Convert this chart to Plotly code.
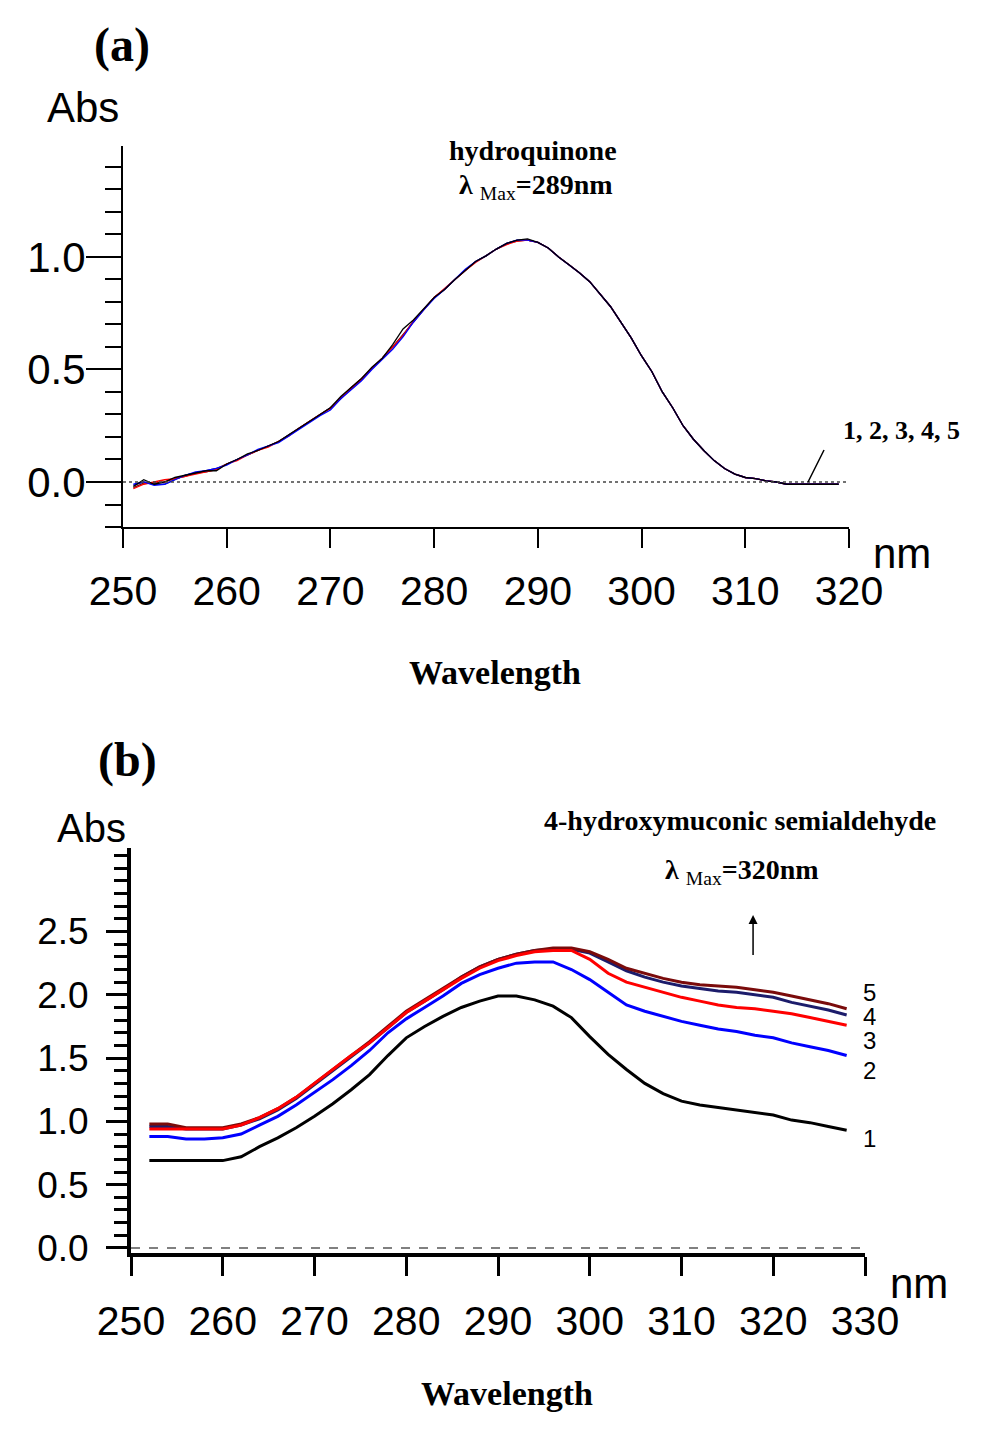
import plotly.graph_objects as go

# (a) hydroquinone spectra, wavelength in nm
a_nm = [251, 252, 253, 254, 255, 256, 257, 258, 259, 260,
        261, 262, 263, 264, 265, 266, 267, 268, 269, 270,
        271, 272, 273, 274, 275, 276, 277, 278, 279, 280,
        281, 282, 283, 284, 285, 286, 287, 288, 289, 290,
        291, 292, 293, 294, 295, 296, 297, 298, 299, 300,
        301, 302, 303, 304, 305, 306, 307, 308, 309, 310,
        311, 312, 313, 314, 315, 316, 317, 318, 319]

a_abs_1 = [-0.02, 0.01, -0.01, 0.00, 0.02, 0.03, 0.04, 0.05, 0.05, 0.08,
           0.10, 0.125, 0.14, 0.16, 0.18, 0.21, 0.24, 0.27, 0.30, 0.33,
           0.38, 0.42, 0.46, 0.51, 0.55, 0.61, 0.68, 0.72, 0.77, 0.82,
           0.855, 0.90, 0.94, 0.98, 1.005, 1.035, 1.06, 1.075, 1.08, 1.065,
           1.04, 1.00, 0.965, 0.93, 0.89, 0.835, 0.78, 0.71, 0.64, 0.56,
           0.49, 0.40, 0.33, 0.25, 0.19, 0.14, 0.095, 0.06, 0.035, 0.02,
           0.015, 0.005, 0.00, -0.01, -0.01, -0.01, -0.01, -0.01, -0.01]
a_abs_2 = [-0.01, 0.00, -0.015, -0.01, 0.01, 0.03, 0.045, 0.05, 0.06, 0.075,
           0.10, 0.12, 0.145, 0.16, 0.175, 0.205, 0.235, 0.265, 0.295, 0.32,
           0.37, 0.41, 0.45, 0.50, 0.545, 0.59, 0.645, 0.71, 0.765, 0.815,
           0.855, 0.90, 0.945, 0.98, 1.005, 1.035, 1.06, 1.075, 1.075, 1.065,
           1.04, 1.00, 0.965, 0.93, 0.89, 0.835, 0.78, 0.71, 0.64, 0.56,
           0.49, 0.40, 0.33, 0.25, 0.19, 0.14, 0.095, 0.06, 0.035, 0.02,
           0.015, 0.005, 0.00, -0.01, -0.01, -0.01, -0.01, -0.01, -0.01]
a_abs_3 = [-0.03, -0.01, 0.00, 0.01, 0.015, 0.025, 0.035, 0.045, 0.055, 0.08,
           0.095, 0.12, 0.14, 0.155, 0.18, 0.205, 0.24, 0.27, 0.30, 0.325,
           0.375, 0.415, 0.455, 0.505, 0.55, 0.60, 0.65, 0.715, 0.77, 0.82,
           0.86, 0.90, 0.94, 0.975, 1.005, 1.035, 1.055, 1.07, 1.075, 1.065,
           1.04, 1.00, 0.965, 0.93, 0.89, 0.835, 0.78, 0.71, 0.64, 0.56,
           0.49, 0.40, 0.33, 0.25, 0.19, 0.14, 0.095, 0.06, 0.035, 0.02,
           0.015, 0.005, 0.00, -0.01, -0.01, -0.01, -0.01, -0.01, -0.01]
a_abs_4 = [-0.015, 0.00, -0.01, -0.01, 0.01, 0.03, 0.04, 0.05, 0.06, 0.08,
           0.10, 0.12, 0.14, 0.16, 0.18, 0.21, 0.24, 0.27, 0.30, 0.33,
           0.37, 0.415, 0.455, 0.505, 0.55, 0.60, 0.65, 0.715, 0.77, 0.82,
           0.855, 0.90, 0.94, 0.98, 1.005, 1.035, 1.06, 1.075, 1.075, 1.065,
           1.04, 1.00, 0.965, 0.93, 0.89, 0.835, 0.78, 0.71, 0.64, 0.56,
           0.49, 0.40, 0.33, 0.25, 0.19, 0.14, 0.095, 0.06, 0.035, 0.02,
           0.015, 0.005, 0.00, -0.01, -0.01, -0.01, -0.01, -0.01, -0.01]
a_abs_5 = [-0.025, -0.005, -0.005, 0.00, 0.015, 0.025, 0.04, 0.045, 0.055, 0.08,
           0.10, 0.12, 0.14, 0.16, 0.18, 0.21, 0.24, 0.27, 0.30, 0.33,
           0.375, 0.42, 0.46, 0.505, 0.55, 0.60, 0.655, 0.715, 0.77, 0.82,
           0.855, 0.90, 0.94, 0.98, 1.005, 1.035, 1.06, 1.07, 1.075, 1.065,
           1.04, 1.00, 0.965, 0.93, 0.89, 0.835, 0.78, 0.71, 0.64, 0.56,
           0.49, 0.40, 0.33, 0.25, 0.19, 0.14, 0.095, 0.06, 0.035, 0.02,
           0.015, 0.005, 0.00, -0.01, -0.01, -0.01, -0.01, -0.01, -0.01]

# (b) 4-hydroxymuconic semialdehyde spectra
b_nm = [252, 254, 256, 258, 260, 262, 264, 266, 268, 270,
        272, 274, 276, 278, 280, 282, 284, 286, 288, 290,
        292, 294, 296, 298, 300, 302, 304, 306, 308, 310,
        312, 314, 316, 318, 320, 322, 324, 326, 328]

b_abs_1 = [0.69, 0.69, 0.69, 0.69, 0.69, 0.72, 0.80, 0.87, 0.95, 1.04,
           1.14, 1.25, 1.37, 1.52, 1.66, 1.75, 1.83, 1.90, 1.95, 1.99,
           1.99, 1.96, 1.91, 1.82, 1.67, 1.53, 1.41, 1.30, 1.22, 1.16,
           1.13, 1.11, 1.09, 1.07, 1.05, 1.01, 0.99, 0.96, 0.93]
b_abs_2 = [0.88, 0.88, 0.86, 0.86, 0.87, 0.90, 0.97, 1.04, 1.13, 1.23,
           1.33, 1.44, 1.56, 1.70, 1.81, 1.90, 1.99, 2.09, 2.16, 2.21,
           2.25, 2.26, 2.26, 2.20, 2.12, 2.02, 1.92, 1.87, 1.83, 1.79,
           1.76, 1.73, 1.71, 1.68, 1.66, 1.62, 1.59, 1.56, 1.52]
b_abs_3 = [0.94, 0.94, 0.94, 0.94, 0.94, 0.97, 1.03, 1.10, 1.19, 1.30,
           1.41, 1.52, 1.62, 1.74, 1.86, 1.95, 2.04, 2.13, 2.21, 2.27,
           2.31, 2.34, 2.35, 2.35, 2.28, 2.17, 2.10, 2.06, 2.02, 1.98,
           1.95, 1.92, 1.90, 1.89, 1.87, 1.85, 1.82, 1.79, 1.76]
b_abs_4 = [0.96, 0.96, 0.94, 0.94, 0.94, 0.97, 1.02, 1.09, 1.18, 1.29,
           1.40, 1.51, 1.62, 1.74, 1.86, 1.95, 2.04, 2.14, 2.22, 2.28,
           2.32, 2.35, 2.36, 2.36, 2.33, 2.26, 2.19, 2.14, 2.10, 2.07,
           2.05, 2.03, 2.02, 2.00, 1.98, 1.94, 1.91, 1.88, 1.84]
b_abs_5 = [0.98, 0.98, 0.95, 0.95, 0.95, 0.98, 1.03, 1.10, 1.19, 1.30,
           1.41, 1.52, 1.63, 1.75, 1.87, 1.96, 2.05, 2.14, 2.22, 2.28,
           2.32, 2.35, 2.37, 2.37, 2.34, 2.28, 2.21, 2.17, 2.13, 2.10,
           2.08, 2.07, 2.06, 2.04, 2.02, 1.99, 1.96, 1.93, 1.89]

curve_names = ["1", "2", "3", "4", "5"]
curve_colors = ["#000000", "#0000ff", "#ff0000", "#1c1c6b", "#7a0b0b"]

W, H = 992, 1440


def px(x):
    return x / W


def py(y):
    return 1 - y / H


SANS = "Liberation Sans, Arial"
SERIF = "Liberation Serif, Times New Roman"

fig = go.Figure()

a_series = [a_abs_1, a_abs_2, a_abs_3, a_abs_4, a_abs_5]
for i in [4, 3, 2, 1, 0]:
    fig.add_trace(go.Scatter(x=a_nm, y=a_series[i], mode="lines", name=curve_names[i],
                             line=dict(color=curve_colors[i], width=1.3),
                             xaxis="x", yaxis="y", showlegend=False))

b_series = [b_abs_1, b_abs_2, b_abs_3, b_abs_4, b_abs_5]
for i in [0, 1, 3, 4, 2]:
    fig.add_trace(go.Scatter(x=b_nm, y=b_series[i], mode="lines", name=curve_names[i],
                             line=dict(color=curve_colors[i], width=3),
                             xaxis="x2", yaxis="y2", showlegend=False))

ax_common = dict(showgrid=False, zeroline=False, showline=True, linecolor="black",
                 ticks="outside", tickcolor="black", automargin=False)
ov_common = dict(ticks="outside", tickcolor="black", showticklabels=False,
                 showline=False, showgrid=False, zeroline=False, automargin=False)

fig.update_layout(
    width=W, height=H,
    margin=dict(l=0, r=0, t=0, b=0, autoexpand=False),
    paper_bgcolor="white", plot_bgcolor="white",
    # panel (a)
    xaxis=dict(ax_common, domain=[px(123), px(849)], range=[250, 320], anchor="y",
               tickvals=[250, 260, 270, 280, 290, 300, 310, 320],
               ticklen=19, tickwidth=2, linewidth=2, ticklabelstandoff=8,
               tickfont=dict(family=SANS, size=41, color="black")),
    yaxis=dict(ax_common, domain=[py(527), py(146)], range=[-0.2, 1.493], anchor="x",
               tickvals=[0, 0.5, 1.0], ticktext=["0.0", "0.5", "1.0"],
               ticklen=35, tickwidth=2, linewidth=2, ticklabelstandoff=-8,
               minor=dict(dtick=0.1, tick0=0, ticklen=16, tickwidth=2,
                          ticks="outside", tickcolor="black", showgrid=False),
               tickfont=dict(family=SANS, size=42, color="black")),
    xaxis3=dict(ov_common, overlaying="x", anchor="y", range=[250, 320], tickvals=[250],
                ticklen=26, tickwidth=2),
    # panel (b)
    xaxis2=dict(ax_common, domain=[px(131), px(865)], range=[250, 330], anchor="y2",
                tickvals=[250, 260, 270, 280, 290, 300, 310, 320, 330],
                ticklen=19, tickwidth=3, linewidth=4, ticklabelstandoff=10,
                tickfont=dict(family=SANS, size=41, color="black")),
    yaxis2=dict(ax_common, domain=[py(1253), py(848)], range=[-0.04, 3.16], anchor="x2",
                tickvals=[0, 0.5, 1.0, 1.5, 2.0, 2.5],
                ticktext=["0.0", "0.5", "1.0", "1.5", "2.0", "2.5"],
                ticklen=21, tickwidth=3, linewidth=4, ticklabelstandoff=10,
                minor=dict(dtick=0.1, tick0=0, ticklen=13, tickwidth=3,
                           ticks="outside", tickcolor="black", showgrid=False),
                tickfont=dict(family=SANS, size=37, color="black")),
    yaxis3=dict(ov_common, overlaying="y2", anchor="x2", range=[-0.04, 3.16],
                tickvals=[0, 1, 2], ticklen=31, tickwidth=3),
    xaxis4=dict(ov_common, overlaying="x2", anchor="y2", range=[250, 330],
                tickvals=[250, 330], ticklen=27, tickwidth=3),
    xaxis5=dict(ov_common, overlaying="x2", anchor="y2", range=[250, 330],
                tickvals=[300], ticklen=38, tickwidth=3),
)

# dashed baselines at zero
fig.add_shape(type="line", xref="x", yref="y", x0=250, x1=320, y0=0, y1=0,
              line=dict(color="#444444", width=1.5, dash="dot"))
fig.add_shape(type="line", xref="x2", yref="y2", x0=250, x1=330, y0=0, y1=0,
              line=dict(color="#808080", width=2, dash="dash"))


def label(text, x, y, size, family=SANS, xanchor="center", height=None):
    fig.add_annotation(text=text, x=px(x), y=py(y), xref="paper", yref="paper",
                       xanchor=xanchor, yanchor="middle", showarrow=False,
                       height=height, borderpad=0,
                       font=dict(family=family, size=size, color="black"))


# panel (a) texts
label("<b>(a)</b>", 122, 45, 48, SERIF)
label("Abs", 83, 108, 42)
label("<b>hydroquinone</b>", 533, 151, 28, SERIF)
label("<b>λ</b> <sub>Max</sub><b>=289nm</b>", 536, 187, 28, SERIF)
label("nm", 902, 553, 42)
label("<b>Wavelength</b>", 495, 672, 34, SERIF)
label("<b>1, 2, 3, 4, 5</b>", 901, 431, 26, SERIF)
fig.add_annotation(x=316.05, y=0, xref="x", yref="y", ax=19, ay=-38, text=" ",
                   showarrow=True, arrowhead=0, arrowwidth=1.5, arrowcolor="black",
                   standoff=0, startstandoff=0)

# panel (b) texts
label("<b>(b)</b>", 127, 760, 48, SERIF)
label("Abs", 91, 828, 40)
label("<b>4-hydroxymuconic semialdehyde</b>", 740, 820, 28, SERIF)
label("<b>λ</b> <sub>Max</sub><b>=320nm</b>", 742, 872, 28, SERIF)
fig.add_annotation(x=317.8, y=2.63, xref="x2", yref="y2", ax=0, ay=50, text=" ",
                   showarrow=True, arrowhead=2, arrowsize=1.2, arrowwidth=1.5,
                   arrowcolor="black")
for name, ypos in zip(["5", "4", "3", "2", "1"], [992, 1016, 1040, 1070, 1138]):
    label(name, 862, ypos, 24, xanchor="left", height=20)
label("nm", 919, 1283, 42)
label("<b>Wavelength</b>", 507, 1393, 34, SERIF)

fig.write_html("out.html", config={"displayModeBar": False},
               post_script="document.body.style.margin='0';")
